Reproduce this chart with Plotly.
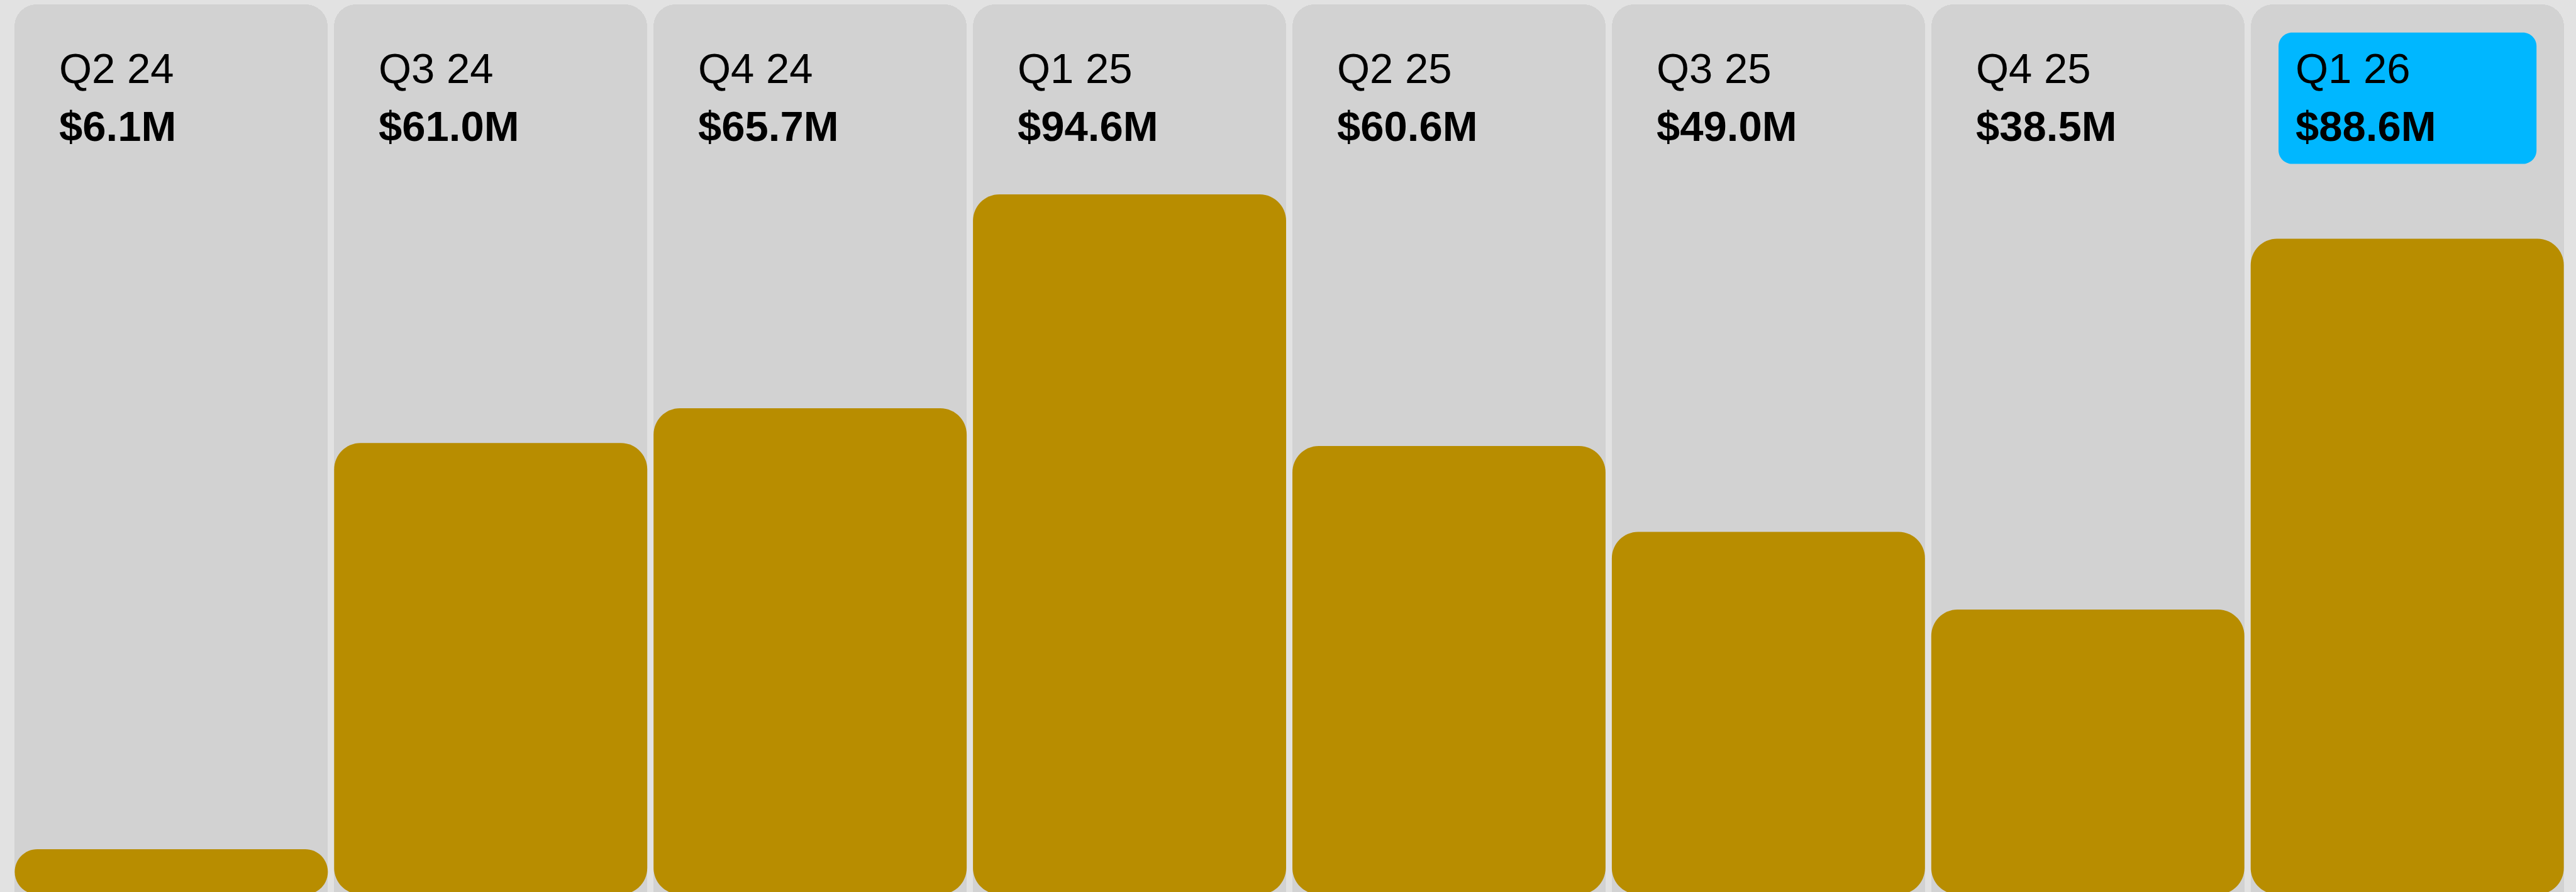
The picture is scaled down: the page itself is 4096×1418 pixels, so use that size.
import plotly.graph_objects as go

# Quarterly revenue, $M
quarters = ["Q2 24", "Q3 24", "Q4 24", "Q1 25", "Q2 25", "Q3 25", "Q4 25", "Q1 26"]
revenue = [6.1, 61.0, 65.7, 94.6, 60.6, 49.0, 38.5, 88.6]
value_labels = ["$6.1M", "$61.0M", "$65.7M", "$94.6M", "$60.6M", "$49.0M", "$38.5M", "$88.6M"]
highlight = "Q1 26"

# Canvas and styling
W, H = 4096, 1418
PAGE_BG = "#e2e2e2"
PANEL_BG = "#d2d2d2"
GOLD = "#b88d00"
BLUE = "#00b7ff"
FONT = "Liberation Sans"
FS = 67

# Pixel geometry of the category slots
SLOT = 507.9          # px between neighbouring panels
PANEL_W = 497.9       # px width of a panel / bar
FIRST_LEFT = 23.4     # px left edge of the first panel
PX_PER_M = 11.763     # px per $1M
ZERO_PX = 1421.8      # y pixel of the $0 baseline (just under the bottom edge)
PANEL_TOP_PX = 7.0
PANEL_R = 35
BAR_R = 42
TEXT_DX = 70          # text inset from panel left edge
BASE1_PX = 133.0      # baseline of the quarter line
BASE2_PX = 225.0      # baseline of the value line

center0 = FIRST_LEFT + PANEL_W / 2
x_range = [-center0 / SLOT, (W - center0) / SLOT]
y_range = [(ZERO_PX - H) / PX_PER_M, ZERO_PX / PX_PER_M]
bw = PANEL_W / SLOT


def px_x(p):
    return (p - center0) / SLOT


def px_y(p):
    return (ZERO_PX - p) / PX_PER_M


def rounded_rect(x0, x1, y0, y1, r_px):
    """Rounded rectangle in data units (y0 < y1), corner radius in pixels."""
    r_px = min(r_px, abs(y1 - y0) * PX_PER_M / 2, abs(x1 - x0) * SLOT / 2)
    rx, ry = r_px / SLOT, r_px / PX_PER_M
    kx, ky = 0.5523 * rx, 0.5523 * ry
    segs = [
        f"M{x0 + rx},{y1}",
        f"L{x1 - rx},{y1}",
        f"C{x1 - rx + kx},{y1} {x1},{y1 - ry + ky} {x1},{y1 - ry}",
        f"L{x1},{y0 + ry}",
        f"C{x1},{y0 + ry - ky} {x1 - rx + kx},{y0} {x1 - rx},{y0}",
        f"L{x0 + rx},{y0}",
        f"C{x0 + rx - kx},{y0} {x0},{y0 + ry - ky} {x0},{y0 + ry}",
        f"L{x0},{y1 - ry}",
        f"C{x0},{y1 - ry + ky} {x0 + rx - kx},{y1} {x0 + rx},{y1}",
        "Z",
    ]
    return " ".join(segs)


idx = list(range(len(quarters)))
fig = go.Figure()

# Background panels (rounded tops, running off the bottom edge)
panel_base = px_y(H + 80)
fig.add_trace(go.Bar(
    x=idx, y=[px_y(PANEL_TOP_PX) - panel_base] * len(idx), base=[panel_base] * len(idx),
    width=bw, marker=dict(color=PANEL_BG, cornerradius=PANEL_R, line=dict(width=0)),
    hoverinfo="skip", showlegend=False,
))

# Revenue bars: fully rounded rectangles from $0 up to each value
for i, v in enumerate(revenue):
    fig.add_shape(type="path", xref="x", yref="y", layer="above",
                  path=rounded_rect(i - bw / 2, i + bw / 2, 0, v, BAR_R),
                  fillcolor=GOLD, line=dict(width=0))

# Labels at the top of each panel
for i, (q, lab) in enumerate(zip(quarters, value_labels)):
    left_px = FIRST_LEFT + i * SLOT
    if q == highlight:
        fig.add_shape(type="path", xref="x", yref="y", layer="above",
                      path=rounded_rect(px_x(left_px + 44.3), px_x(left_px + 454.5),
                                        px_y(260.6), px_y(51.8), 21.7),
                      fillcolor=BLUE, line=dict(width=0))
    fig.add_annotation(x=px_x(left_px + TEXT_DX), y=px_y(BASE1_PX + 0.21 * FS),
                       xref="x", yref="y", xanchor="left", yanchor="bottom",
                       text=q, showarrow=False, borderpad=0,
                       font=dict(family=FONT, size=FS, color="#000000"))
    fig.add_annotation(x=px_x(left_px + TEXT_DX), y=px_y(BASE2_PX + 0.21 * FS),
                       xref="x", yref="y", xanchor="left", yanchor="bottom",
                       text=lab, showarrow=False, borderpad=0,
                       font=dict(family=FONT, size=FS, color="#000000", weight=700))

fig.update_layout(
    width=W, height=H, margin=dict(l=0, r=0, t=0, b=0, pad=0),
    paper_bgcolor=PAGE_BG, plot_bgcolor=PAGE_BG,
    barmode="overlay", bargap=0, showlegend=False,
    xaxis=dict(range=x_range, visible=False, fixedrange=True),
    yaxis=dict(range=y_range, visible=False, fixedrange=True),
)

fig.write_html("out.html", config={"displayModeBar": False},
               post_script="document.body.style.margin='0';")
